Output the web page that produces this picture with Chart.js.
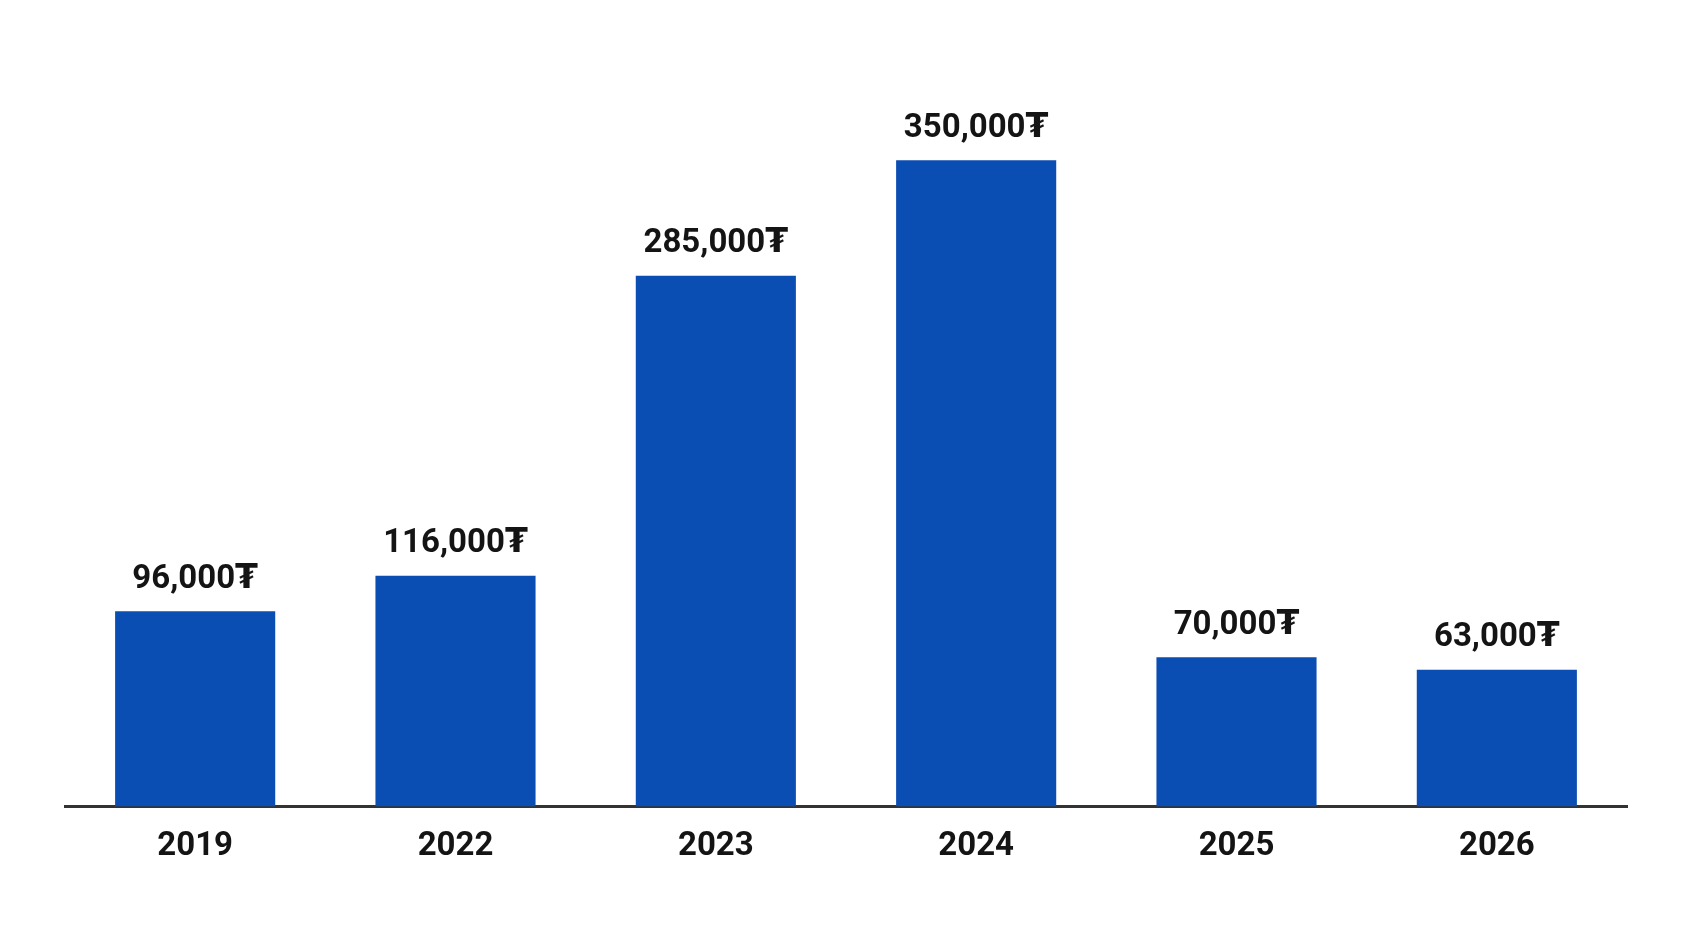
<!doctype html>
<html lang="en">
<head>
  <meta charset="utf-8">
  <title>Chart</title>
  <style>
    html, body { margin: 0; padding: 0; background: #fff; }
    #wrap { width: 1692px; height: 930px; }
  </style>
</head>
<body>
  <div id="wrap"><canvas id="grafico"></canvas></div>

  <script src="https://cdn.jsdelivr.net/npm/chart.js"></script>
  <script>
    const years = ['2019', '2022', '2023', '2024', '2025', '2026'];
    const amounts = [96000, 116000, 285000, 350000, 70000, 63000];
    const currency = '₮';

    const barColor = '#0a4db3';
    const textColor = '#141414';
    const fontFamily = 'Roboto, "DejaVu Sans", sans-serif';
    const yMin = -14000;
    const yMax = 384000;

    // value labels above each bar
    const valueLabels = {
      id: 'valueLabels',
      afterDatasetsDraw(chart) {
        const ctx = chart.ctx;
        const meta = chart.getDatasetMeta(0);
        ctx.save();
        ctx.font = 'bold 33px ' + fontFamily;
        ctx.fillStyle = textColor;
        ctx.textAlign = 'center';
        ctx.textBaseline = 'bottom';
        meta.data.forEach((bar, i) => {
          const txt = amounts[i].toLocaleString('en-US') + currency;
          ctx.fillText(txt, bar.x, bar.y - 15);
        });
        ctx.restore();
      }
    };

    new Chart(document.getElementById('grafico'), {
      type: 'bar',
      data: {
        labels: years,
        datasets: [{
          data: amounts,
          base: yMin,
          backgroundColor: barColor,
          barPercentage: 0.615,
          categoryPercentage: 1
        }]
      },
      options: {
        responsive: true,
        maintainAspectRatio: false,
        animation: false,
        layout: { padding: { left: 65, right: 65, top: 100, bottom: 42 } },
        plugins: {
          legend: { display: false },
          tooltip: { enabled: false }
        },
        scales: {
          x: {
            grid: { display: false, drawTicks: false },
            border: { display: true, color: '#333333', width: 3 },
            ticks: {
              color: textColor,
              padding: 21,
              font: { family: fontFamily, size: 33, weight: 'bold' }
            }
          },
          y: {
            display: false,
            min: yMin,
            max: yMax
          }
        }
      },
      plugins: [valueLabels]
    });
  </script>
</body>
</html>
